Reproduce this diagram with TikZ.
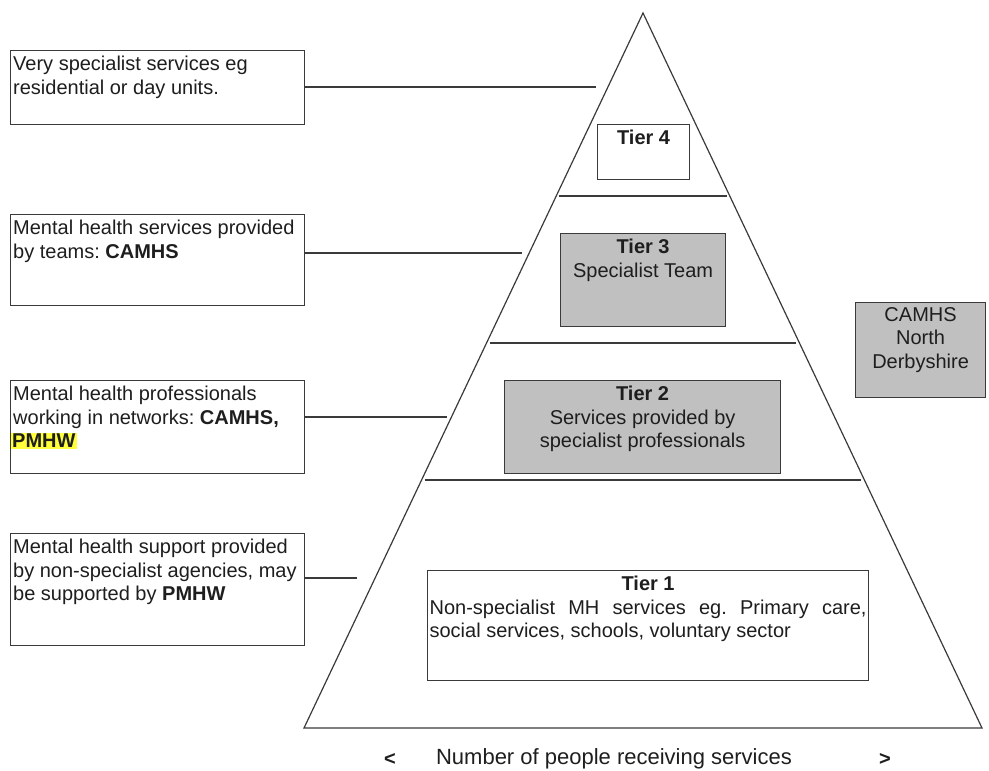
\documentclass[tikz,border=0pt]{standalone}
\usepackage{fontspec}
\setmainfont{Liberation Sans}
\usetikzlibrary{calc}
\definecolor{linegray}{HTML}{3A3A3A}
\definecolor{tierfill}{HTML}{C0C0C0}
\definecolor{marker}{HTML}{FFFF3C}
\definecolor{ink}{HTML}{1E1E1E}
\setlength{\fboxsep}{1pt}
\frenchspacing

\begin{document}
\begin{tikzpicture}[x=1pt,y=-1pt,
  every node/.style={font=\fontsize{20}{23.5}\selectfont, text=ink},
  sidebox/.style={draw=linegray, line width=1.2pt, fill=white, minimum width=294pt, inner sep=0pt, anchor=north west},
  sidetext/.style={align=left, inner sep=0pt, anchor=north west},
  tierbox/.style={draw=linegray, line width=1.2pt, inner sep=0pt, anchor=north west},
  tiertext/.style={align=center, inner sep=0pt, anchor=north},
  edge/.style={draw=linegray, line width=1.2pt},
  leader/.style={draw=linegray, line width=1.2pt}]

\useasboundingbox (0,0) rectangle (989,771);

% pyramid outline
\coordinate (apex) at (643,13);
\coordinate (bl) at (304,728);
\coordinate (br) at (982,728);
\draw[edge, line join=miter] (apex) -- (br) -- (bl) -- cycle;

% tier dividers
\foreach \yy in {196,343,480}{
  \draw[edge, shorten <=3pt, shorten >=3pt]
    ($(apex)!{(\yy-13)/715}!(bl)$) -- ($(apex)!{(\yy-13)/715}!(br)$);
}

% description boxes on the left
\node[sidebox, minimum height=74pt] (b1) at (10,50) {};
\node[sidebox, minimum height=91pt] (b2) at (10,214) {};
\node[sidebox, minimum height=93pt] (b3) at (10,380) {};
\node[sidebox, minimum height=112pt] (b4) at (10,533) {};

\node[sidetext] (t1) at ([xshift=3pt,yshift=-6pt]b1.north west)
  {Very specialist services eg\\residential or day units.};
\node[sidetext] (t2) at ([xshift=3pt,yshift=-6pt]b2.north west)
  {Mental health services provided\\by teams: \textbf{CAMHS}};
\node[sidetext] (t3) at ([xshift=3pt,yshift=-6pt]b3.north west)
  {Mental health professionals\\working in networks: \textbf{CAMHS,}\\\hspace*{-2pt}\colorbox{marker}{\textbf{PMHW}}};
\node[sidetext] (t4) at ([xshift=3pt,yshift=-6pt]b4.north west)
  {Mental health support provided\\by non-specialist agencies, may\\be supported by \textbf{PMHW}};

% leader lines towards the pyramid
\coordinate (c1) at (596,87);
\coordinate (c2) at (522,253);
\coordinate (c3) at (447,417);
\coordinate (c4) at (357,578);
\draw[leader] (b1.east |- c1) -- (c1);
\draw[leader] (b2.east |- c2) -- (c2);
\draw[leader] (b3.east |- c3) -- (c3);
\draw[leader] (b4.east |- c4) -- (c4);

% tier boxes
\node[tierbox, fill=white, minimum width=92pt, minimum height=55pt] (tier4) at (597,124) {};
\node[tierbox, fill=tierfill, minimum width=165pt, minimum height=93pt] (tier3) at (560,233) {};
\node[tierbox, fill=tierfill, minimum width=276pt, minimum height=93pt] (tier2) at (504,380) {};
\node[tierbox, fill=white, minimum width=441pt, minimum height=110pt] (tier1) at (427,570) {};
\node[tierbox, fill=tierfill, minimum width=130pt, minimum height=95pt] (camhs) at (855,302) {};

\node[tiertext] (tt4) at ([yshift=-6pt]tier4.north) {\textbf{Tier 4}};
\node[tiertext] (tt3) at ([yshift=-6pt]tier3.north) {\textbf{Tier 3}\\Specialist Team};
\node[tiertext] (tt2) at ([yshift=-6pt]tier2.north) {\textbf{Tier 2}\\Services provided by\\specialist professionals};
\node[inner sep=0pt, anchor=north, align=left] (tt1) at ([yshift=-6pt]tier1.north)
  {\makebox[437pt][c]{\textbf{Tier 1}}\\
   \makebox[437pt][s]{Non-specialist MH services eg. Primary care,}\\
   social services, schools, voluntary sector};
\node[tiertext] (tcam) at ([yshift=-5pt]camhs.north) {CAMHS\\North\\Derbyshire};

% axis caption under the pyramid
\node[font=\fontsize{22}{26}\selectfont] (axis) at (614,759) {Number of people receiving services};
\node[font=\fontsize{20}{24}\selectfont\bfseries] (lt) at (390,759) {<};
\node[font=\fontsize{20}{24}\selectfont\bfseries] (gt) at (885,759) {>};
\end{tikzpicture}
\end{document}
